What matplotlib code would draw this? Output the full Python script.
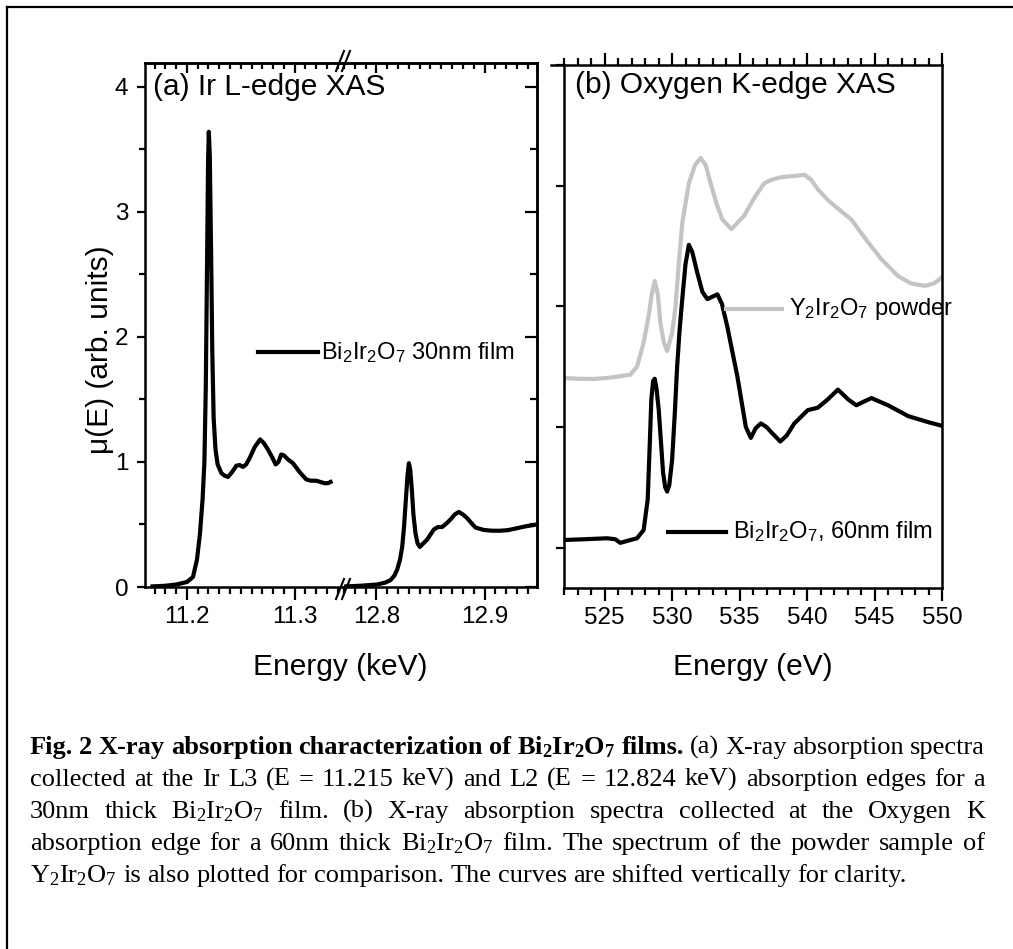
import matplotlib
matplotlib.use("Agg")
import matplotlib.pyplot as plt
from matplotlib.lines import Line2D
from matplotlib.ticker import MultipleLocator, NullFormatter

plt.rcParams['font.family'] = ['Liberation Sans', 'DejaVu Sans']

# (a) Ir L3 edge, Bi2Ir2O7 30nm film
l3_e = [11.168, 11.180, 11.190, 11.200, 11.2056, 11.2093, 11.2120, 11.2145, 11.2162,
        11.2175, 11.2188, 11.2196, 11.2203, 11.2212, 11.2224, 11.2235, 11.2248, 11.2265,
        11.2285, 11.2320, 11.2350, 11.2381, 11.2420, 11.2459, 11.2490, 11.2520, 11.2550,
        11.2582, 11.2630, 11.2680, 11.2715, 11.2752, 11.2790, 11.2824, 11.2850, 11.2876,
        11.2905, 11.2938, 11.2985, 11.3046, 11.3109, 11.3150, 11.3201, 11.3240, 11.3278,
        11.3310, 11.3334]
l3_mu = [0.005, 0.01, 0.02, 0.04, 0.08, 0.22, 0.42, 0.70, 1.0,
         1.6, 2.7, 3.4, 3.64, 3.45, 2.7, 1.9, 1.35, 1.10,
         0.98, 0.91, 0.89, 0.88, 0.92, 0.97, 0.975, 0.96, 0.98,
         1.03, 1.12, 1.18, 1.15, 1.10, 1.04, 0.98, 1.00, 1.06,
         1.05, 1.02, 0.99, 0.92, 0.86, 0.85, 0.85, 0.84, 0.83,
         0.83, 0.84]

# (a) Ir L2 edge
l2_e = [12.772, 12.785, 12.8006, 12.808, 12.813, 12.8165, 12.8192, 12.8218, 12.8238,
        12.8255, 12.8272, 12.8288, 12.8300, 12.8312, 12.8327, 12.8342, 12.8361, 12.8380,
        12.8401, 12.8435, 12.8470, 12.8500, 12.8531, 12.8570, 12.8608, 12.8650, 12.8685,
        12.8725, 12.8762, 12.8800, 12.8840, 12.8880, 12.8917, 12.8994, 12.9070, 12.9148,
        12.9220, 12.9300, 12.9380, 12.9486]
l2_mu = [0.005, 0.01, 0.02, 0.035, 0.055, 0.09, 0.14, 0.22, 0.32,
         0.48, 0.70, 0.90, 0.99, 0.94, 0.78, 0.58, 0.43, 0.35,
         0.32, 0.35, 0.38, 0.42, 0.46, 0.48, 0.48, 0.51, 0.54,
         0.58, 0.60, 0.58, 0.55, 0.51, 0.475, 0.456, 0.45, 0.45,
         0.455, 0.47, 0.485, 0.50]

# (b) O K edge, Y2Ir2O7 powder (shifted)
y_e = [522.07, 523.0, 524.18, 525.5, 526.91, 527.41, 527.9, 528.27, 528.5, 528.72,
       528.95, 529.14, 529.4, 529.64, 530.01, 530.26, 530.5, 530.76, 531.25, 531.7,
       532.12, 532.5, 532.86, 533.3, 533.73, 534.4, 535.34, 536.1, 536.83, 537.4,
       538.07, 539.0, 539.81, 540.3, 540.8, 541.55, 542.4, 543.28, 544.4, 545.51,
       546.76, 547.7, 548.73, 549.4, 550.0]
y_mu = [2.406, 2.40, 2.398, 2.41, 2.433, 2.50, 2.70, 2.92, 3.10, 3.21,
        3.10, 2.86, 2.70, 2.63, 2.78, 3.0, 3.35, 3.69, 4.02, 4.17,
        4.23, 4.17, 4.02, 3.85, 3.72, 3.64, 3.75, 3.90, 4.02, 4.05,
        4.07, 4.08, 4.09, 4.05, 3.97, 3.88, 3.80, 3.72, 3.55, 3.39,
        3.25, 3.19, 3.17, 3.19, 3.24]

# (b) O K edge, Bi2Ir2O7 60nm film
b_e = [522.07, 523.5, 525.18, 525.8, 526.17, 526.8, 527.41, 527.9, 528.2, 528.35,
       528.47, 528.6, 528.72, 528.85, 529.02, 529.34, 529.5, 529.64, 529.8, 530.01,
       530.2, 530.38, 530.56, 530.76, 531.0, 531.25, 531.5, 531.87, 532.25, 532.62,
       533.0, 533.36, 533.7, 534.1, 534.84, 535.47, 535.84, 536.2, 536.58, 537.0,
       537.33, 538.02, 538.5, 539.06, 540.06, 540.8, 541.55, 542.29, 543.04, 543.65,
       544.2, 544.77, 546.01, 547.5, 548.99, 550.0]
b_mu = [1.064, 1.07, 1.078, 1.07, 1.04, 1.06, 1.078, 1.147, 1.40, 1.85,
        2.23, 2.38, 2.40, 2.32, 2.14, 1.62, 1.50, 1.465, 1.52, 1.73,
        2.10, 2.50, 2.80, 3.06, 3.35, 3.51, 3.45, 3.28, 3.12, 3.06,
        3.08, 3.10, 3.02, 2.83, 2.42, 2.00, 1.91, 1.99, 2.03, 2.00,
        1.96, 1.88, 1.93, 2.03, 2.14, 2.16, 2.23, 2.31, 2.23, 2.18,
        2.21, 2.24, 2.18, 2.09, 2.04, 2.01]

W, H = 1013, 949
fig = plt.figure(figsize=(W / 100, H / 100), dpi=100)

SP = 1.8      # spine width
TFS = 17.5    # tick labels
LFS = 21.5    # axis labels


def px_axes(x0, x1, y0, y1):
    return fig.add_axes([x0 / W, 1 - y1 / H, (x1 - x0) / W, (y1 - y0) / H])


ax1 = px_axes(145, 343, 63, 587)
ax2 = px_axes(343, 537, 63, 587)
ax3 = px_axes(564, 942, 65, 588)
ax2.patch.set_visible(False)

ax1.plot(l3_e, l3_mu, color='black', lw=3, solid_joinstyle='round')
ax2.plot(l2_e, l2_mu, color='black', lw=3, solid_joinstyle='round')
ax3.plot(y_e, y_mu, color='#c4c4c4', lw=3, solid_joinstyle='round')
ax3.plot(b_e, b_mu, color='black', lw=3, solid_joinstyle='round')

ax1.set_xlim(11.161, 11.345)
ax2.set_xlim(12.769, 12.9486)
for a in (ax1, ax2):
    a.set_ylim(0, 4.19)
ax3.set_xlim(522, 550)
ax3.set_ylim(0.666, 5.0)

for a in (ax1, ax2, ax3):
    for s in a.spines.values():
        s.set_linewidth(SP)

# panel (a) broken axis
ax1.spines['right'].set_visible(False)
ax2.spines['left'].set_visible(False)

for a in (ax1, ax2):
    a.xaxis.set_major_locator(MultipleLocator(0.1))
    a.xaxis.set_minor_locator(MultipleLocator(0.01))
    a.tick_params(axis='x', which='major', direction='out', length=9, width=1.6,
                  labelsize=TFS, pad=5, top=False)
    a.tick_params(axis='x', which='minor', direction='out', length=5, width=1.6, top=False)
    sec = a.secondary_xaxis('top')
    sec.xaxis.set_major_locator(MultipleLocator(0.1))
    sec.xaxis.set_minor_locator(MultipleLocator(0.01))
    sec.xaxis.set_major_formatter(NullFormatter())
    sec.tick_params(axis='x', which='major', direction='in', length=7, width=1.6)
    sec.tick_params(axis='x', which='minor', direction='in', length=4, width=1.6)
    sec.spines['top'].set_linewidth(SP)

ax1.yaxis.set_major_locator(MultipleLocator(1))
ax1.yaxis.set_minor_locator(MultipleLocator(0.5))
ax1.tick_params(axis='y', which='major', direction='out', length=6, width=1.6,
                labelsize=TFS, pad=6)
ax1.tick_params(axis='y', which='minor', direction='out', length=4, width=1.6)
ax2.tick_params(axis='y', which='both', left=False, labelleft=False)
secy = ax2.secondary_yaxis('right')
secy.yaxis.set_major_locator(MultipleLocator(1))
secy.yaxis.set_minor_locator(MultipleLocator(0.5))
secy.yaxis.set_major_formatter(NullFormatter())
secy.tick_params(axis='y', which='major', direction='in', length=9, width=1.6)
secy.tick_params(axis='y', which='minor', direction='in', length=5, width=1.6)
secy.spines['right'].set_linewidth(SP)

# panel (b)
ax3.xaxis.set_major_locator(MultipleLocator(5))
ax3.xaxis.set_minor_locator(MultipleLocator(1))
ax3.tick_params(axis='x', which='major', direction='out', length=9, width=1.6,
                labelsize=TFS, pad=5, top=True)
ax3.tick_params(axis='x', which='minor', direction='out', length=5, width=1.6, top=True)
ax3.yaxis.set_major_locator(MultipleLocator(1))
ax3.tick_params(axis='y', which='major', direction='out', length=6, width=1.6,
                labelleft=False, right=False)
ax3.spines['top'].set_bounds(521, 550)

# break marks
for yb in (61, 589):
    for dx in (-3, 3):
        fig.add_artist(Line2D([(343 + dx - 4) / W, (343 + dx + 4) / W],
                              [1 - (yb + 10) / H, 1 - (yb - 10) / H],
                              color='black', lw=1.5, transform=fig.transFigure))

# panel titles and labels
ax1.text(0.04, 0.954, '(a) Ir L-edge XAS', transform=ax1.transAxes, fontsize=21.5,
         va='center', ha='left', zorder=5)
ax3.text(0.029, 0.962, '(b) Oxygen K-edge XAS', transform=ax3.transAxes, fontsize=21.5,
         va='center', ha='left')

ax1.plot([0.571, 0.874], [0.448, 0.448], color='black', lw=3, transform=ax1.transAxes,
         clip_on=False)
ax1.text(0.89, 0.448, r'$\mathregular{Bi_2Ir_2O_7}$ 30nm film', transform=ax1.transAxes,
         fontsize=17, va='center', ha='left', clip_on=False)
ax3.plot([0.429, 0.577], [0.533, 0.533], color='#c4c4c4', lw=3, transform=ax3.transAxes)
ax3.text(0.595, 0.533, r'$\mathregular{Y_2Ir_2O_7}$ powder', transform=ax3.transAxes,
         fontsize=17, va='center', ha='left', clip_on=False, zorder=5)
ax3.plot([0.275, 0.429], [0.107, 0.107], color='black', lw=3, transform=ax3.transAxes)
ax3.text(0.447, 0.107, r'$\mathregular{Bi_2Ir_2O_7}$, 60nm film', transform=ax3.transAxes,
         fontsize=17, va='center', ha='left', clip_on=False)

fig.text(100 / W, 1 - 350 / H, 'μ(E) (arb. units)', rotation=90, fontsize=LFS,
         va='center', ha='center')
fig.text(340 / W, 1 - 667 / H, 'Energy (keV)', fontsize=LFS, va='center', ha='center')
fig.text(753 / W, 1 - 667 / H, 'Energy (eV)', fontsize=LFS, va='center', ha='center')

# outer frame
fig.add_artist(Line2D([7 / W, 7 / W], [0, 1 - 7 / H], color='black', lw=1.6,
                      transform=fig.transFigure))
fig.add_artist(Line2D([7 / W, 1], [1 - 7 / H, 1 - 7 / H], color='black', lw=1.6,
                      transform=fig.transFigure))

# caption, justified
CFS = 19
BI = r'$\mathregular{Bi_2Ir_2O_7}$'
YI = r'$\mathregular{Y_2Ir_2O_7}$'
cap_lines = [
    [('Fig.', 1), ('2', 1), ('X-ray', 1), ('absorption', 1), ('characterization', 1),
     ('of', 1), (BI, 1), ('films.', 1), ('(a)', 0), ('X-ray', 0), ('absorption', 0),
     ('spectra', 0)],
    [(w, 0) for w in 'collected at the Ir L3 (E = 11.215 keV) and L2 (E = 12.824 keV) '
     'absorption edges for a'.split()],
    [('30nm', 0), ('thick', 0), (BI, 0)] + [(w, 0) for w in
     'film. (b) X-ray absorption spectra collected at the Oxygen K'.split()],
    [(w, 0) for w in 'absorption edge for a 60nm thick'.split()] + [(BI, 0)] +
    [(w, 0) for w in 'film. The spectrum of the powder sample of'.split()],
    [(YI, 0)] + [(w, 0) for w in
     'is also plotted for comparison. The curves are shifted vertically for clarity.'.split()],
]
cap_base = [754, 786, 818, 850, 882]

rend = fig.canvas.get_renderer()
for i, (toks, yb) in enumerate(zip(cap_lines, cap_base)):
    txts = [fig.text(0, 1 - yb / H, w, fontsize=CFS, family='Liberation Serif',
                     weight='bold' if b else 'normal', va='baseline', ha='left')
            for w, b in toks]
    widths = [t.get_window_extent(rend).width for t in txts]
    if i == len(cap_lines) - 1:
        gap = 6.5
    else:
        gap = (985 - 30 - sum(widths)) / (len(txts) - 1)
    x = 30
    for t, wd in zip(txts, widths):
        t.set_x(x / W)
        x += wd + gap

fig.savefig('out.png', dpi=100)
